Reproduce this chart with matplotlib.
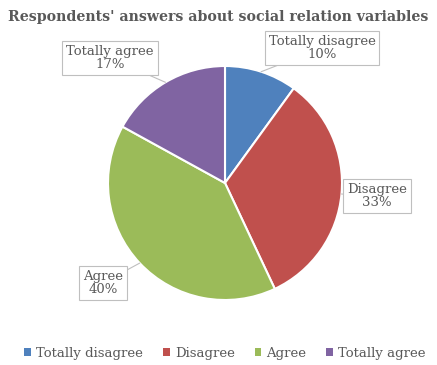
import matplotlib.pyplot as plt
import numpy as np
from matplotlib.patches import Patch

# data
categories = ['Totally disagree', 'Disagree', 'Agree', 'Totally agree']
values = [10, 33, 40, 17]
colors = ['#4F81BD', '#C0504D', '#9BBB59', '#8064A2']
title = "Respondents' answers about social relation variables"

W, H = 437, 365
fig = plt.figure(figsize=(W / 100, H / 100), dpi=100)
plt.rcParams['font.family'] = 'DejaVu Serif'
txt = '#595959'

# pie centre / radius in pixels
cx, cy, r = 225, 183, 117
ax = fig.add_axes([(cx - r) / W, (H - cy - r) / H, 2 * r / W, 2 * r / H])
wedges, _ = ax.pie(values, colors=colors, startangle=90, counterclock=False,
                   wedgeprops=dict(edgecolor='white', linewidth=1.5))
ax.set_xlim(-1, 1)
ax.set_ylim(-1, 1)
ax.set_aspect('equal')
ax.axis('off')

# label box positions (pixels)
label_pos = [(322, 48), (377, 196), (103, 283), (110, 58)]

def px(p):
    return ((p[0] - cx) / r, (cy - p[1]) / r)

for w, cat, v, pos in zip(wedges, categories, values, label_pos):
    mid = np.deg2rad((w.theta1 + w.theta2) / 2)
    edge = (np.cos(mid), np.sin(mid))
    ax.annotate(f'{cat}\n{v}%', xy=edge, xytext=px(pos), ha='center', va='center',
                fontsize=9.5, color=txt, linespacing=1.05,
                bbox=dict(boxstyle='square,pad=0.3', fc='white', ec='#BFBFBF', lw=0.8),
                arrowprops=dict(arrowstyle='-', color='#BFBFBF', lw=0.8,
                                shrinkA=0, shrinkB=0),
                annotation_clip=False)

fig.text(0.5, 1 - 17 / H, title, ha='center', va='center', fontsize=10.2,
         color=txt, fontweight='bold')

handles = [Patch(facecolor=c, edgecolor='none') for c in colors]
fig.legend(handles, categories, loc='center', bbox_to_anchor=(0.515, 1 - 353 / H),
           ncol=4, frameon=False, fontsize=9.5, labelcolor=txt,
           handlelength=0.5, handleheight=0.5, handletextpad=0.4, columnspacing=1.5)

fig.savefig('out.png', dpi=100)
